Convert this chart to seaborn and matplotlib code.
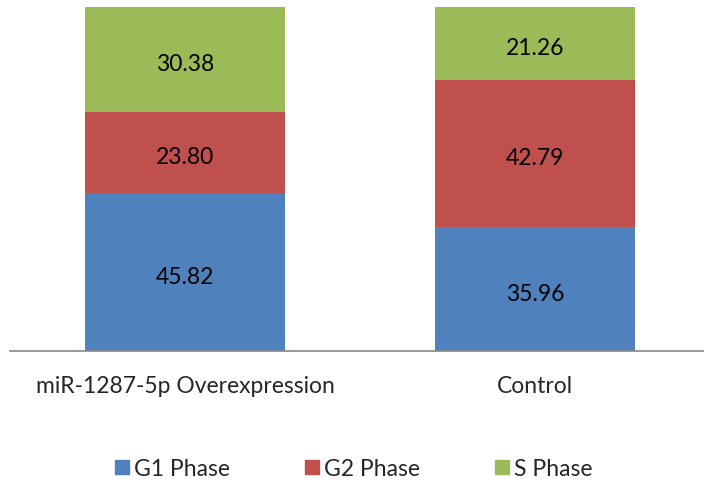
import matplotlib
matplotlib.use("Agg")
import matplotlib.pyplot as plt
import matplotlib.transforms as mtransforms
import seaborn as sns
import numpy as np
import pandas as pd
from matplotlib.lines import Line2D

categories = ["miR-1287-5p Overexpression", "Control"]
series_names = ["G1 Phase", "G2 Phase", "S Phase"]
g1 = [45.82, 35.96]
g2 = [23.80, 42.79]
s_phase = [30.38, 21.26]
colors = ["#4F81BD", "#C0504D", "#9BBB59"]

sns.set_theme(style="white")
plt.rcParams["font.family"] = ["Lato", "DejaVu Sans"]

FS = 16.5

fig = plt.figure(figsize=(7.04, 4.85), dpi=100)
ax = fig.add_axes([10/704, (485-352)/485, 694/704, 344/485])

series = [g1, g2, s_phase]
cum = np.cumsum(np.array(series), axis=0)
for i in range(len(series) - 1, -1, -1):
    df = pd.DataFrame({"cat": categories, "val": cum[i]})
    sns.barplot(data=df, x="cat", y="val", color=colors[i], saturation=1,
                width=200/350, ax=ax, linewidth=0)

shift = mtransforms.offset_copy(ax.transData, fig=fig, x=0, y=-3, units="points")
bottoms = np.vstack([np.zeros(len(categories)), cum[:-1]])
for i, vals in enumerate(series):
    for j, v in enumerate(vals):
        ax.text(j, bottoms[i][j] + v / 2, f"{v:.2f}", ha="center", va="center",
                fontsize=FS, color="black", transform=shift)

ax.set_xlim(-0.5, 1.483)
ax.set_ylim(0, 100)
ax.set_xlabel("")
ax.set_ylabel("")
ax.set_yticks([])
ax.tick_params(axis="x", length=0, pad=17, labelsize=FS)
for sp in ["top", "right", "left"]:
    ax.spines[sp].set_visible(False)
ax.spines["bottom"].set_color("#888888")
ax.spines["bottom"].set_linewidth(1.2)

handles = [Line2D([0], [0], marker="s", linestyle="", markersize=10.5,
                  markerfacecolor=c, markeredgecolor=c) for c in colors]
fig.legend(handles, series_names, loc="center", bbox_to_anchor=(0.5, (485-470)/485),
           ncol=3, frameon=False, fontsize=FS, columnspacing=3.1, handletextpad=0.1,
           handlelength=0.9)

fig.savefig("out.png", dpi=100)
